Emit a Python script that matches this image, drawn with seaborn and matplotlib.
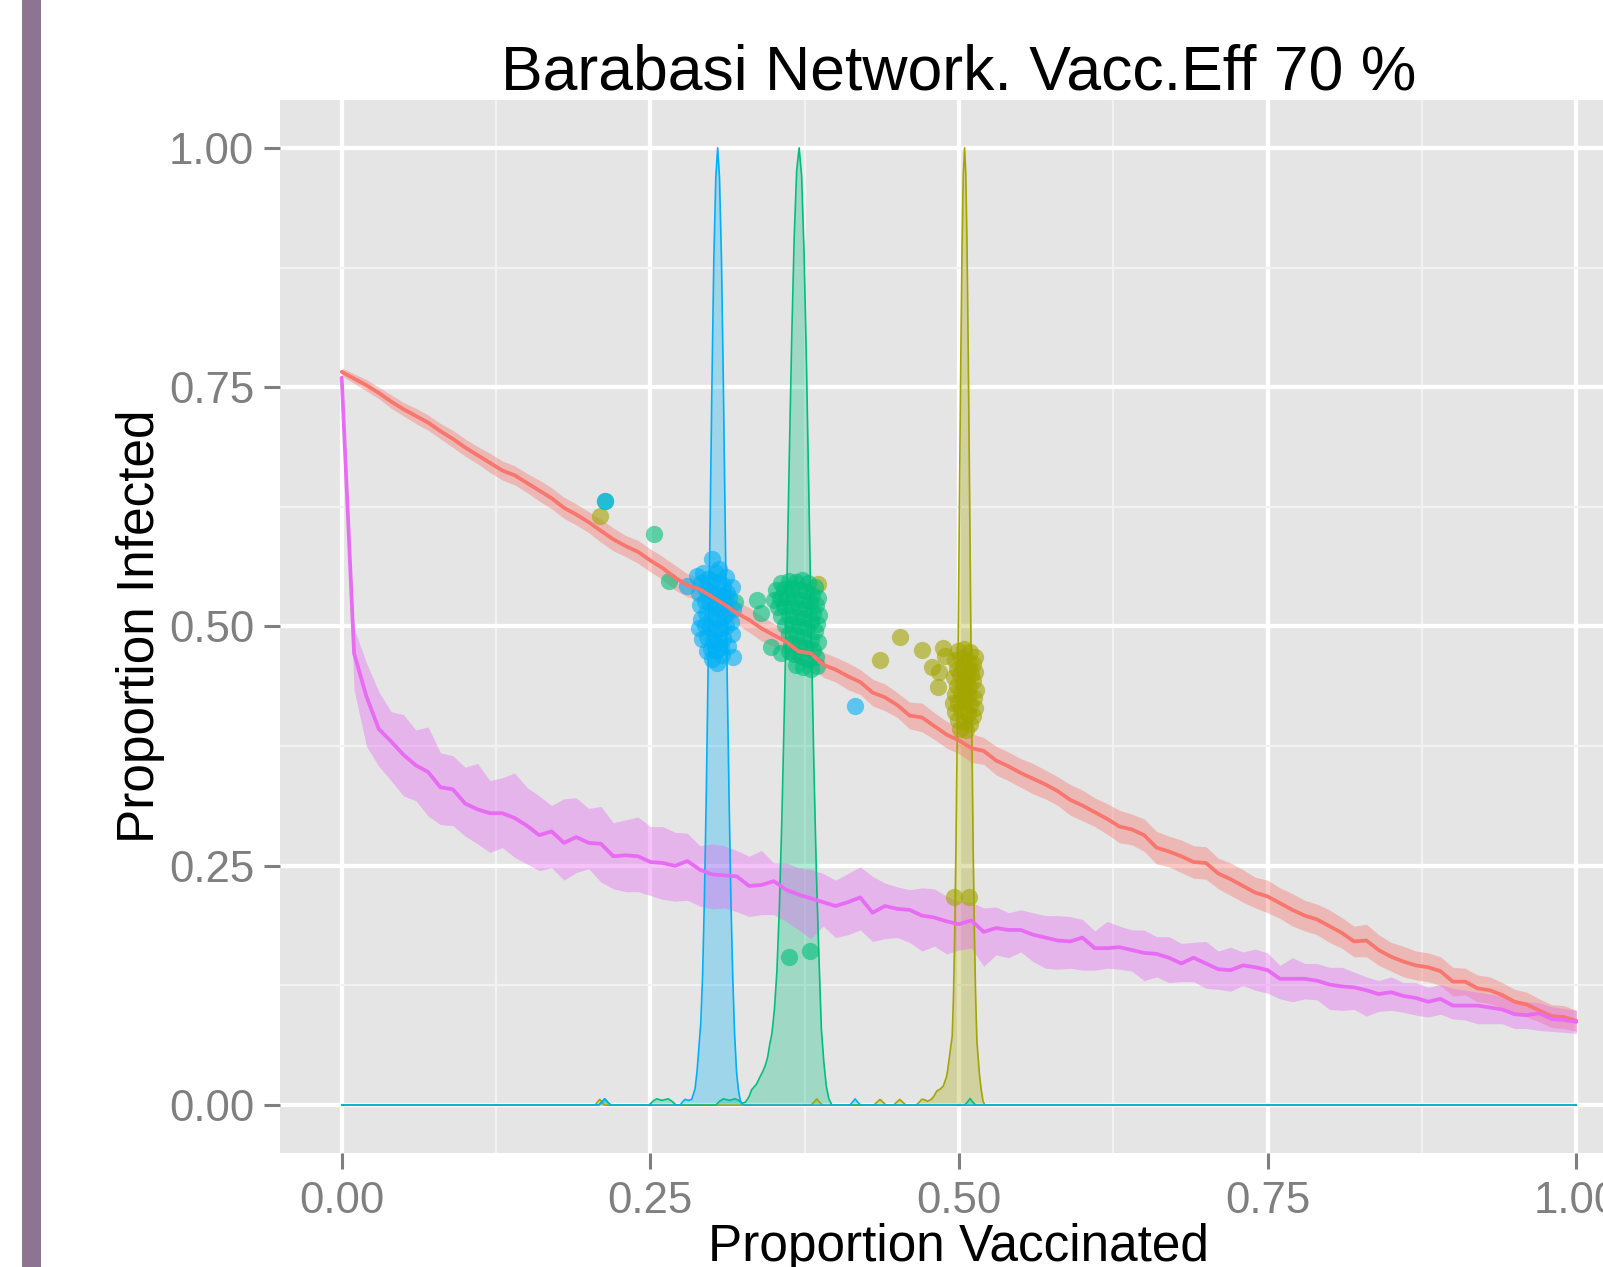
import numpy as np
import pandas as pd
import matplotlib
matplotlib.use("Agg")
import matplotlib.pyplot as plt
import seaborn as sns
from matplotlib.patches import Rectangle

# ---- data ----
title = "Barabasi Network. Vacc.Eff 70 %"
vacc = np.round(np.linspace(0, 1, 101), 2)  # proportion vaccinated grid

red_mean = [0.766, 0.759, 0.752, 0.744, 0.735, 0.727, 0.720, 0.713, 0.704, 0.696,
            0.687, 0.679, 0.671, 0.663, 0.658, 0.650, 0.642, 0.634, 0.624, 0.617,
            0.609, 0.600, 0.591, 0.584, 0.578, 0.569, 0.561, 0.551, 0.543, 0.539,
            0.531, 0.523, 0.514, 0.507, 0.498, 0.491, 0.484, 0.474, 0.472, 0.460,
            0.455, 0.448, 0.442, 0.431, 0.426, 0.418, 0.407, 0.405, 0.396, 0.387,
            0.381, 0.373, 0.370, 0.360, 0.354, 0.347, 0.341, 0.335, 0.328, 0.319,
            0.313, 0.306, 0.299, 0.291, 0.288, 0.282, 0.269, 0.265, 0.260, 0.254,
            0.253, 0.242, 0.236, 0.229, 0.222, 0.218, 0.211, 0.204, 0.198, 0.194,
            0.187, 0.180, 0.171, 0.172, 0.162, 0.155, 0.150, 0.146, 0.144, 0.140,
            0.129, 0.129, 0.122, 0.120, 0.115, 0.108, 0.105, 0.099, 0.093, 0.092,
            0.088]
red_half = [0.004, 0.005, 0.006, 0.006, 0.007, 0.007, 0.008, 0.008, 0.008, 0.009,
            0.009, 0.009, 0.010, 0.010, 0.010, 0.010, 0.011, 0.011, 0.011, 0.011,
            0.011, 0.012, 0.012, 0.011, 0.012, 0.012, 0.012, 0.013, 0.012, 0.012,
            0.012, 0.013, 0.012, 0.013, 0.013, 0.012, 0.013, 0.013, 0.014, 0.013,
            0.013, 0.014, 0.013, 0.014, 0.014, 0.013, 0.014, 0.015, 0.014, 0.014,
            0.014, 0.015, 0.014, 0.015, 0.015, 0.015, 0.016, 0.015, 0.015, 0.016,
            0.016, 0.015, 0.016, 0.017, 0.016, 0.017, 0.017, 0.016, 0.017, 0.017,
            0.017, 0.016, 0.017, 0.017, 0.016, 0.017, 0.016, 0.017, 0.016, 0.016,
            0.017, 0.016, 0.016, 0.017, 0.016, 0.015, 0.016, 0.015, 0.015, 0.015,
            0.015, 0.014, 0.014, 0.014, 0.013, 0.013, 0.013, 0.012, 0.012, 0.012,
            0.011]

pink_mean = [0.760, 0.472, 0.427, 0.393, 0.380, 0.366, 0.355, 0.348, 0.332, 0.330,
             0.315, 0.309, 0.305, 0.305, 0.300, 0.292, 0.282, 0.286, 0.274, 0.280,
             0.274, 0.273, 0.260, 0.261, 0.260, 0.254, 0.253, 0.250, 0.255, 0.246,
             0.241, 0.240, 0.239, 0.229, 0.230, 0.234, 0.225, 0.220, 0.216, 0.212,
             0.208, 0.212, 0.217, 0.201, 0.208, 0.205, 0.204, 0.198, 0.196, 0.192,
             0.189, 0.193, 0.181, 0.185, 0.183, 0.183, 0.178, 0.175, 0.172, 0.171,
             0.175, 0.164, 0.164, 0.165, 0.162, 0.159, 0.158, 0.154, 0.148, 0.154,
             0.148, 0.142, 0.141, 0.146, 0.144, 0.141, 0.132, 0.132, 0.132, 0.130,
             0.126, 0.124, 0.123, 0.120, 0.116, 0.118, 0.114, 0.112, 0.108, 0.111,
             0.104, 0.104, 0.104, 0.102, 0.100, 0.095, 0.094, 0.096, 0.090, 0.089,
             0.087]
pink_high = [0.760, 0.498, 0.462, 0.432, 0.411, 0.408, 0.392, 0.395, 0.368, 0.365,
             0.353, 0.357, 0.339, 0.342, 0.347, 0.332, 0.323, 0.313, 0.320, 0.321,
             0.310, 0.312, 0.295, 0.298, 0.301, 0.291, 0.291, 0.285, 0.284, 0.271,
             0.273, 0.271, 0.266, 0.260, 0.266, 0.253, 0.253, 0.248, 0.246, 0.242,
             0.235, 0.242, 0.249, 0.239, 0.232, 0.228, 0.225, 0.227, 0.226, 0.218,
             0.213, 0.212, 0.206, 0.207, 0.201, 0.204, 0.201, 0.198, 0.198, 0.197,
             0.194, 0.182, 0.192, 0.187, 0.183, 0.183, 0.176, 0.176, 0.169, 0.170,
             0.171, 0.161, 0.165, 0.160, 0.163, 0.159, 0.146, 0.154, 0.148, 0.148,
             0.144, 0.144, 0.139, 0.134, 0.130, 0.134, 0.128, 0.128, 0.123, 0.126,
             0.122, 0.120, 0.118, 0.116, 0.114, 0.110, 0.108, 0.107, 0.103, 0.101,
             0.099]
pink_low = [0.760, 0.434, 0.375, 0.354, 0.339, 0.323, 0.318, 0.302, 0.293, 0.292,
            0.281, 0.273, 0.264, 0.269, 0.259, 0.252, 0.245, 0.248, 0.235, 0.243,
            0.247, 0.233, 0.226, 0.223, 0.223, 0.219, 0.215, 0.213, 0.214, 0.208,
            0.205, 0.206, 0.202, 0.197, 0.199, 0.199, 0.192, 0.183, 0.174, 0.187,
            0.175, 0.178, 0.183, 0.171, 0.174, 0.175, 0.170, 0.161, 0.166, 0.158,
            0.162, 0.164, 0.145, 0.157, 0.154, 0.160, 0.150, 0.143, 0.142, 0.143,
            0.141, 0.141, 0.143, 0.142, 0.140, 0.130, 0.134, 0.128, 0.129, 0.129,
            0.122, 0.121, 0.119, 0.125, 0.120, 0.117, 0.111, 0.108, 0.111, 0.110,
            0.100, 0.099, 0.100, 0.093, 0.098, 0.099, 0.097, 0.094, 0.092, 0.095,
            0.090, 0.089, 0.085, 0.085, 0.085, 0.080, 0.080, 0.078, 0.077, 0.076,
            0.075]

# scaled densities of the three strategies (x, scaled density)
olive_density = [(0.0, 0), (0.205, 0), (0.207, 0.003), (0.209, 0.006), (0.211, 0.003), (0.213, 0),
                 (0.380, 0), (0.3825, 0.003), (0.3848, 0.0066), (0.387, 0.003), (0.3895, 0),
                 (0.431, 0), (0.4335, 0.003), (0.436, 0.006), (0.4385, 0.003), (0.441, 0),
                 (0.447, 0), (0.4495, 0.003), (0.452, 0.006), (0.4545, 0.003), (0.457, 0),
                 (0.465, 0), (0.467, 0.002), (0.4698, 0.006), (0.4715, 0.006), (0.4745, 0.004),
                 (0.4775, 0.006), (0.4795, 0.009), (0.482, 0.0147), (0.485, 0.017), (0.4873, 0.020),
                 (0.490, 0.030), (0.491, 0.038), (0.4927, 0.055), (0.4945, 0.072), (0.4955, 0.112),
                 (0.4965, 0.177), (0.4975, 0.266), (0.4985, 0.378), (0.4995, 0.508), (0.5005, 0.649),
                 (0.5015, 0.784), (0.5025, 0.898), (0.5035, 0.973), (0.5045, 1.0), (0.5055, 0.973),
                 (0.5065, 0.898), (0.5075, 0.784), (0.5085, 0.649), (0.5095, 0.508), (0.5105, 0.378),
                 (0.5115, 0.266), (0.5125, 0.177), (0.5135, 0.112), (0.5145, 0.067), (0.5155, 0.050),
                 (0.5165, 0.033), (0.518, 0.016), (0.5195, 0.004), (0.521, 0), (1.0, 0)]
green_density = [(0.0, 0), (0.208, 0), (0.2105, 0.003), (0.213, 0.0066), (0.2155, 0.003), (0.218, 0),
                 (0.249, 0), (0.252, 0.004), (0.255, 0.0066), (0.2595, 0.005), (0.2645, 0.0066),
                 (0.2675, 0.004), (0.271, 0), (0.303, 0), (0.306, 0.004), (0.309, 0.0066),
                 (0.314, 0.005), (0.3186, 0.0066), (0.3215, 0.005), (0.324, 0.002), (0.327, 0.003),
                 (0.330, 0.009), (0.332, 0.016), (0.336, 0.022), (0.339, 0.030), (0.341, 0.035),
                 (0.343, 0.041), (0.345, 0.050), (0.3465, 0.062), (0.3485, 0.075), (0.3505, 0.100),
                 (0.3525, 0.140), (0.3545, 0.206), (0.3565, 0.298), (0.3585, 0.411), (0.3605, 0.539),
                 (0.3625, 0.674), (0.3645, 0.801), (0.3665, 0.906), (0.3685, 0.976), (0.3705, 1.0),
                 (0.3725, 0.971), (0.3745, 0.890), (0.3765, 0.770), (0.3785, 0.629), (0.3805, 0.484),
                 (0.3825, 0.351), (0.3845, 0.241), (0.3865, 0.156), (0.3885, 0.080), (0.3905, 0.045),
                 (0.3925, 0.020), (0.3945, 0.007), (0.397, 0), (0.5045, 0), (0.507, 0.0035),
                 (0.509, 0.007), (0.511, 0.0035), (0.5135, 0), (1.0, 0)]
blue_density = [(0.0, 0), (0.208, 0), (0.2105, 0.003), (0.213, 0.0066), (0.2155, 0.003), (0.218, 0),
                (0.274, 0), (0.2765, 0.004), (0.278, 0.006), (0.281, 0.005), (0.2835, 0.006),
                (0.2862, 0.017), (0.2878, 0.035), (0.2893, 0.060), (0.2908, 0.085), (0.2923, 0.135),
                (0.2938, 0.217), (0.2953, 0.325), (0.2968, 0.458), (0.2984, 0.607), (0.2999, 0.755),
                (0.3014, 0.883), (0.3030, 0.969), (0.3045, 1.0), (0.3060, 0.969), (0.3076, 0.883),
                (0.3091, 0.755), (0.3106, 0.607), (0.3121, 0.458), (0.3137, 0.325), (0.3152, 0.217),
                (0.3167, 0.135), (0.3182, 0.075), (0.3198, 0.035), (0.3213, 0.016), (0.3228, 0.005),
                (0.3245, 0.001), (0.327, 0), (0.4115, 0), (0.4137, 0.003), (0.4158, 0.0066),
                (0.418, 0.003), (0.4205, 0), (1.0, 0)]

# simulation runs (proportion vaccinated, proportion infected)
olive_px = [0.209, 0.386, 0.436, 0.452, 0.470, 0.478, 0.483, 0.484, 0.487, 0.489, 0.496, 0.508,
            0.499, 0.504, 0.509, 0.513, 0.497, 0.502, 0.507, 0.511, 0.498, 0.503, 0.508, 0.513,
            0.496, 0.501, 0.506, 0.511, 0.498, 0.503, 0.508, 0.514, 0.497, 0.502, 0.507, 0.512,
            0.499, 0.504, 0.509, 0.513, 0.497, 0.502, 0.507, 0.511, 0.499, 0.504, 0.509, 0.501,
            0.506, 0.495, 0.505, 0.510]
olive_py = [0.615, 0.544, 0.465, 0.489, 0.475, 0.458, 0.437, 0.452, 0.478, 0.469, 0.217, 0.217,
            0.474, 0.476, 0.473, 0.468, 0.465, 0.467, 0.464, 0.461, 0.456, 0.458, 0.455, 0.452,
            0.447, 0.449, 0.446, 0.443, 0.438, 0.440, 0.437, 0.434, 0.429, 0.431, 0.428, 0.425,
            0.420, 0.422, 0.418, 0.415, 0.411, 0.413, 0.409, 0.406, 0.402, 0.400, 0.398, 0.393,
            0.392, 0.420, 0.434, 0.450]
green_px = [0.213, 0.253, 0.265, 0.309, 0.3186, 0.3366, 0.340, 0.348, 0.356, 0.3626, 0.379,
            0.356, 0.362, 0.368, 0.373, 0.378, 0.383, 0.352, 0.358, 0.364, 0.370, 0.376, 0.381,
            0.386, 0.350, 0.355, 0.361, 0.367, 0.373, 0.379, 0.384, 0.353, 0.358, 0.364, 0.370,
            0.376, 0.382, 0.387, 0.356, 0.362, 0.368, 0.374, 0.380, 0.385, 0.359, 0.365, 0.371,
            0.377, 0.383, 0.362, 0.368, 0.374, 0.380, 0.386, 0.364, 0.370, 0.376, 0.382, 0.366,
            0.372, 0.378, 0.384, 0.368, 0.374, 0.380, 0.385, 0.362]
green_py = [0.631, 0.597, 0.548, 0.532, 0.526, 0.528, 0.514, 0.479, 0.472, 0.155, 0.161,
            0.545, 0.548, 0.547, 0.549, 0.545, 0.541, 0.538, 0.539, 0.540, 0.538, 0.537, 0.533,
            0.530, 0.528, 0.530, 0.531, 0.529, 0.528, 0.526, 0.522, 0.520, 0.521, 0.522, 0.519,
            0.518, 0.514, 0.512, 0.511, 0.512, 0.510, 0.509, 0.506, 0.503, 0.502, 0.503, 0.500,
            0.498, 0.495, 0.492, 0.491, 0.489, 0.486, 0.484, 0.482, 0.480, 0.478, 0.475, 0.471,
            0.469, 0.466, 0.468, 0.460, 0.458, 0.456, 0.459, 0.474]
blue_px = [0.213, 0.280, 0.4156,
           0.2996, 0.293, 0.288, 0.291, 0.289, 0.290, 0.291, 0.289, 0.292, 0.296, 0.300, 0.304,
           0.308, 0.3167, 0.313, 0.316, 0.315, 0.317, 0.314, 0.316, 0.311, 0.306, 0.303,
           0.296, 0.300, 0.305, 0.309, 0.295, 0.299, 0.303, 0.308, 0.312, 0.294, 0.298, 0.302,
           0.306, 0.310, 0.295, 0.300, 0.304, 0.309, 0.312, 0.294, 0.298, 0.303, 0.307, 0.311,
           0.296, 0.301, 0.305, 0.309, 0.299, 0.304, 0.307]
blue_py = [0.631, 0.542, 0.4167,
           0.570, 0.556, 0.553, 0.545, 0.535, 0.522, 0.508, 0.498, 0.487, 0.474, 0.466, 0.462,
           0.470, 0.468, 0.480, 0.492, 0.505, 0.518, 0.530, 0.541, 0.552, 0.560, 0.556,
           0.550, 0.548, 0.545, 0.543, 0.538, 0.536, 0.533, 0.531, 0.535, 0.527, 0.524, 0.521,
           0.519, 0.523, 0.514, 0.511, 0.508, 0.510, 0.514, 0.502, 0.499, 0.496, 0.498, 0.501,
           0.489, 0.486, 0.484, 0.488, 0.477, 0.475, 0.479]

RED, OLIVE, GREEN, BLUE, PINK = "#F8766D", "#A3A500", "#00BF7D", "#00B0F6", "#E76BF3"

# ---- style ----
sns.set_theme(style="darkgrid", rc={"axes.facecolor": "#E5E5E5", "figure.facecolor": "white"})
plt.rcParams["font.family"] = ["Liberation Sans", "DejaVu Sans"]

W, H = 1603, 1267
fig = plt.figure(figsize=(W / 100, H / 100), dpi=100)
ax = fig.add_axes([280 / W, (H - 1153) / H, (1638 - 280) / W, (1153 - 100) / H])
ax.set_xlim(-0.05, 1.05)
ax.set_ylim(-0.05, 1.05)
ax.set_axisbelow(True)

# densities (scaled to max 1)
for dens, col in [(olive_density, OLIVE), (green_density, GREEN), (blue_density, BLUE)]:
    d = pd.DataFrame(dens, columns=["x", "h"])
    ax.fill_between(d["x"], 0, d["h"], color=col, alpha=0.3, lw=0)
    ax.plot(d["x"], d["h"], color=col, lw=1.2)

# mean curves with ribbons
curves = pd.DataFrame({"vacc": vacc, "red": red_mean, "red_half": red_half,
                       "pink": pink_mean, "pink_low": pink_low, "pink_high": pink_high})
ax.fill_between(curves["vacc"], curves["red"] - curves["red_half"], curves["red"] + curves["red_half"],
                color=RED, alpha=0.4, lw=0)
ax.fill_between(curves["vacc"], curves["pink_low"], curves["pink_high"], color=PINK, alpha=0.4, lw=0)
sns.lineplot(data=curves, x="vacc", y="red", color=RED, lw=2.7, ax=ax)
sns.lineplot(data=curves, x="vacc", y="pink", color=PINK, lw=2.7, ax=ax)

# runs
for px, py, col in [(olive_px, olive_py, OLIVE), (green_px, green_py, GREEN), (blue_px, blue_py, BLUE)]:
    sns.scatterplot(x=px, y=py, color=col, alpha=0.6, s=155, linewidth=0, ax=ax)

# axes cosmetics
ticks = [0, 0.25, 0.5, 0.75, 1.0]
ax.set_xticks(ticks)
ax.set_xticklabels([f"{t:.2f}" for t in ticks])
ax.set_yticks(ticks)
ax.set_yticklabels([f"{t:.2f}" for t in ticks])
ax.set_xticks([0.125, 0.375, 0.625, 0.875], minor=True)
ax.set_yticks([0.125, 0.375, 0.625, 0.875], minor=True)
ax.grid(which="major", color="white", lw=3.1)
ax.grid(which="minor", color="#F2F2F2", lw=1.6)
ax.tick_params(which="major", length=11.5, width=2.2, color="#7F7F7F",
               labelcolor="#7F7F7F", labelsize=31.5, bottom=True, left=True)
ax.tick_params(axis="x", which="major", pad=8.5)
ax.tick_params(axis="y", which="major", pad=7)
ax.tick_params(which="minor", length=0)
for sp in ax.spines.values():
    sp.set_visible(False)

ax.set_title(title, fontsize=45, pad=7.2, color="black")
ax.set_xlabel("Proportion Vaccinated", fontsize=37, color="black")
ax.set_ylabel("Proportion Infected", fontsize=37, color="black")
ax.xaxis.set_label_coords(0.5, -70 / 1053)
ax.yaxis.set_label_coords((165 - 280) / 1358, 0.5)

# coloured strip on the left edge
fig.add_artist(Rectangle((22 / W, 0), 19 / W, 1, transform=fig.transFigure,
                         color="#8E7490", lw=0))

fig.savefig("out.png", dpi=100)
